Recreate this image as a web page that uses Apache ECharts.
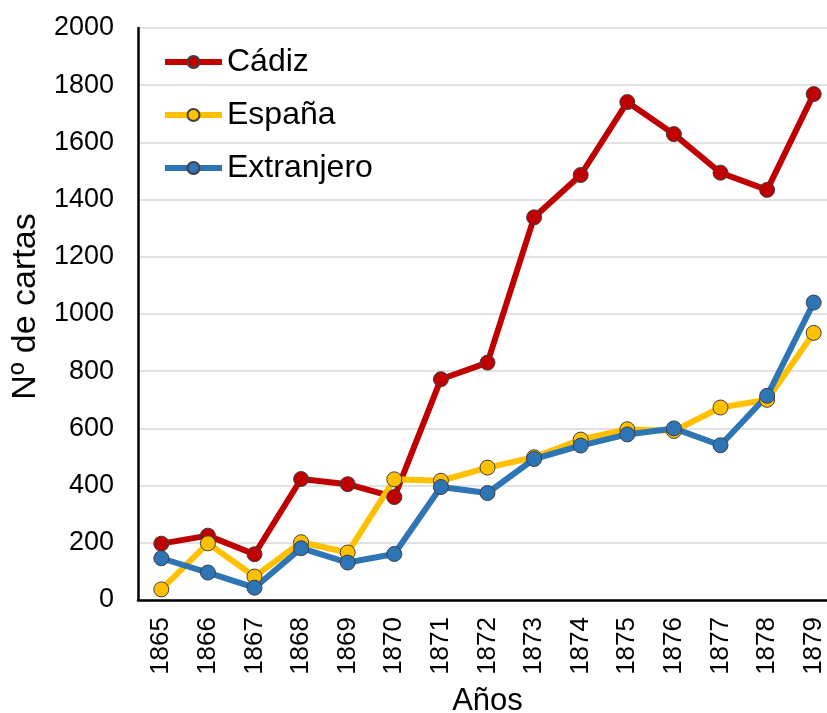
<!DOCTYPE html>
<html>
<head>
<meta charset="utf-8">
<script src="https://cdn.jsdelivr.net/npm/echarts@6/dist/echarts.min.js"></script>
<style>
  html, body { margin: 0; padding: 0; background: #fff; }
  #chart { width: 827px; height: 713px; }
</style>
</head>
<body>
<div id="chart"></div>
<script>
// datos
const years = ['1865', '1866', '1867', '1868', '1869', '1870', '1871', '1872', '1873', '1874', '1875', '1876', '1877', '1878', '1879']
const cadiz = [197, 225, 160, 423, 405, 360, 772, 830, 1338, 1486, 1741, 1629, 1494, 1434, 1769]
const espana = [37, 198, 82, 202, 166, 422, 417, 463, 499, 561, 597, 591, 673, 700, 934]
const extranjero = [146, 96, 43, 181, 131, 161, 395, 374, 493, 540, 579, 600, 541, 714, 1040]

const font = 'Liberation Sans, Arial, sans-serif'

function lineSeries (name, data, color) {
  return {
    name: name,
    type: 'line',
    data: data,
    symbol: 'circle',
    symbolSize: 15,
    lineStyle: { color: color, width: 6 },
    itemStyle: { color: color, borderColor: '#404040', borderWidth: 1 },
    emphasis: { disabled: true },
    animation: false
  }
}

let chart = echarts.init(document.getElementById('chart'))
chart.setOption({
  backgroundColor: '#fff',
  textStyle: { fontFamily: font },
  legend: {
    orient: 'vertical',
    left: 162,
    top: 44,
    padding: 0,
    itemWidth: 57,
    itemHeight: 15,
    itemGap: 17,
    lineStyle: { width: 6 },
    textStyle: { fontSize: 32, color: '#000', fontFamily: font, lineHeight: 36 },
    data: ['Cádiz', 'España', 'Extranjero']
  },
  grid: {
    left: 138,
    right: -10,
    top: 28,
    bottom: 113,
    containLabel: false,
    outerBoundsMode: 'none'
  },
  xAxis: {
    type: 'category',
    data: years,
    boundaryGap: true,
    name: 'Años',
    nameLocation: 'middle',
    nameGap: 86,
    nameTextStyle: { fontSize: 31, color: '#000', fontFamily: font },
    axisLine: { lineStyle: { color: '#000', width: 2.5 } },
    axisTick: { show: false },
    axisLabel: { rotate: 90, fontSize: 26, color: '#000', margin: 17, fontFamily: font }
  },
  yAxis: {
    type: 'value',
    min: 0,
    max: 2000,
    interval: 200,
    name: 'Nº de cartas',
    nameLocation: 'middle',
    nameGap: 85,
    nameTextStyle: { fontSize: 34, color: '#000', fontFamily: font, padding: [0, 0, 0, 15] },
    axisLine: { show: true, lineStyle: { color: '#000', width: 2.5 } },
    axisTick: { show: false },
    axisLabel: { fontSize: 27, color: '#000', margin: 24, fontFamily: font, formatter: v => String(v) },
    splitLine: { lineStyle: { color: '#d9d9d9', width: 1.5 } }
  },
  series: [
    lineSeries('Cádiz', cadiz, '#C00000'),
    lineSeries('España', espana, '#FFC000'),
    lineSeries('Extranjero', extranjero, '#2E75B6')
  ]
})
</script>
</body>
</html>
